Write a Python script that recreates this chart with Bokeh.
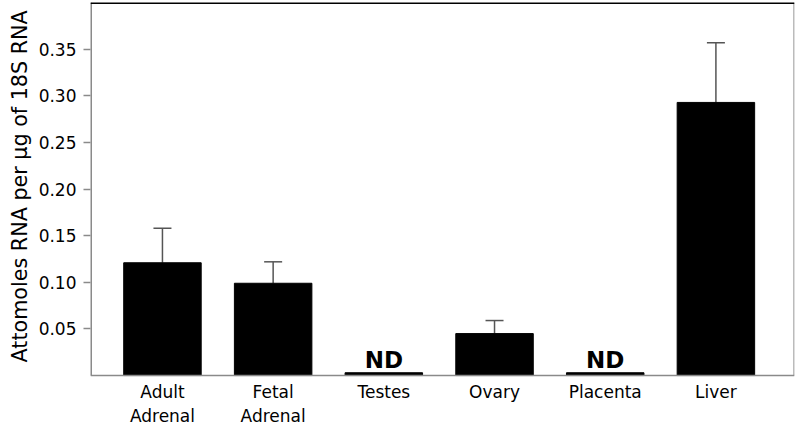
from bokeh.plotting import figure
from bokeh.models import (ColumnDataSource, FixedTicker, Whisker, TeeHead,
                          NumeralTickFormatter, Range1d, Span, Title)
from bokeh.core.properties import value
from bokeh.embed import file_html
from bokeh.resources import INLINE

categories = ["Adult\nAdrenal", "Fetal\nAdrenal", "Testes", "Ovary", "Placenta", "Liver"]
means = [0.121, 0.099, 0.003, 0.045, 0.003, 0.293]
errors = [0.037, 0.023, 0.0, 0.014, 0.0, 0.064]
not_detected = [False, False, True, False, True, False]
y_ticks = [0.05, 0.10, 0.15, 0.20, 0.25, 0.30, 0.35]
y_title = "Attomoles RNA per \u00b5g of 18S RNA"

xs = list(range(1, len(categories) + 1))
FONT = "DejaVu Sans"
AX_GRAY = "#8a8a8a"
X0, X1 = 0.35, 6.71
Y0, Y1 = -0.0536, 0.4002

p = figure(width=800, height=425, output_backend="svg", toolbar_location=None,
           x_range=Range1d(X0, X1), y_range=Range1d(Y0, Y1),
           min_border_left=90, min_border_right=6, min_border_top=2,
           min_border_bottom=0)
p.outline_line_color = None
p.grid.visible = False
p.background_fill_color = "white"
p.border_fill_color = "white"
p.xaxis.visible = False

src = ColumnDataSource(dict(x=xs, top=means, label=categories, y0=[0] * len(xs)))
p.vbar(x="x", top="top", width=0.70, bottom=0, source=src,
       fill_color="black", line_color="black")

ex = [x for x, e in zip(xs, errors) if e > 0]
elo = [m for m, e in zip(means, errors) if e > 0]
ehi = [m + e for m, e in zip(means, errors) if e > 0]
esrc = ColumnDataSource(dict(x=ex, lower=elo, upper=ehi))
w = Whisker(base="x", lower="lower", upper="upper", source=esrc,
            line_color="#555555", line_width=1.5, lower_head=None,
            upper_head=TeeHead(size=18, line_color="#555555", line_width=1.5))
p.add_layout(w)

ndx = [x for x, n in zip(xs, not_detected) if n]
ndy = [m for m, n in zip(means, not_detected) if n]
p.text(x=ndx, y=ndy, text=["ND"] * len(ndx), text_align="center",
       text_baseline="bottom", text_font=value(FONT), text_font_size="23px",
       text_font_style="bold", text_color="black", y_offset=0)

# category labels under the baseline
p.text(x="x", y="y0", text="label", source=src, text_align="center",
       text_baseline="top", y_offset=6, text_font=value(FONT),
       text_font_size="17px", text_color="black", text_line_height=1.2)

# frame edges: baseline, top, left and right
p.add_layout(Span(location=0, dimension="width", line_color=AX_GRAY, line_width=1.5))
p.add_layout(Span(location=Y1, dimension="width", line_color="black", line_width=3))
p.segment(x0=[X0], y0=[0], x1=[X0], y1=[Y1], line_color=AX_GRAY, line_width=3)
p.segment(x0=[X1], y0=[0], x1=[X1], y1=[Y1], line_color="#bbbbbb", line_width=3)

# left axis (ticks and labels)
ya = p.yaxis[0]
ya.ticker = FixedTicker(ticks=y_ticks)
ya.formatter = NumeralTickFormatter(format="0.00")
ya.axis_line_color = None
ya.major_tick_line_color = AX_GRAY
ya.major_tick_line_width = 1.5
ya.major_tick_out = 7
ya.major_tick_in = 0
ya.minor_tick_line_color = None
ya.minor_tick_out = 0
ya.major_label_text_font = FONT
ya.major_label_text_font_size = "17px"
ya.major_label_text_color = "black"
ya.major_label_standoff = 7

# y axis title placed along the 0..top span
p.add_layout(Title(text=y_title, align="left", offset=63, standoff=8,
                   text_font=FONT, text_font_size="20.7px",
                   text_font_style="normal", text_color="black"), "left")

open("out.html", "w").write(file_html(p, INLINE))
